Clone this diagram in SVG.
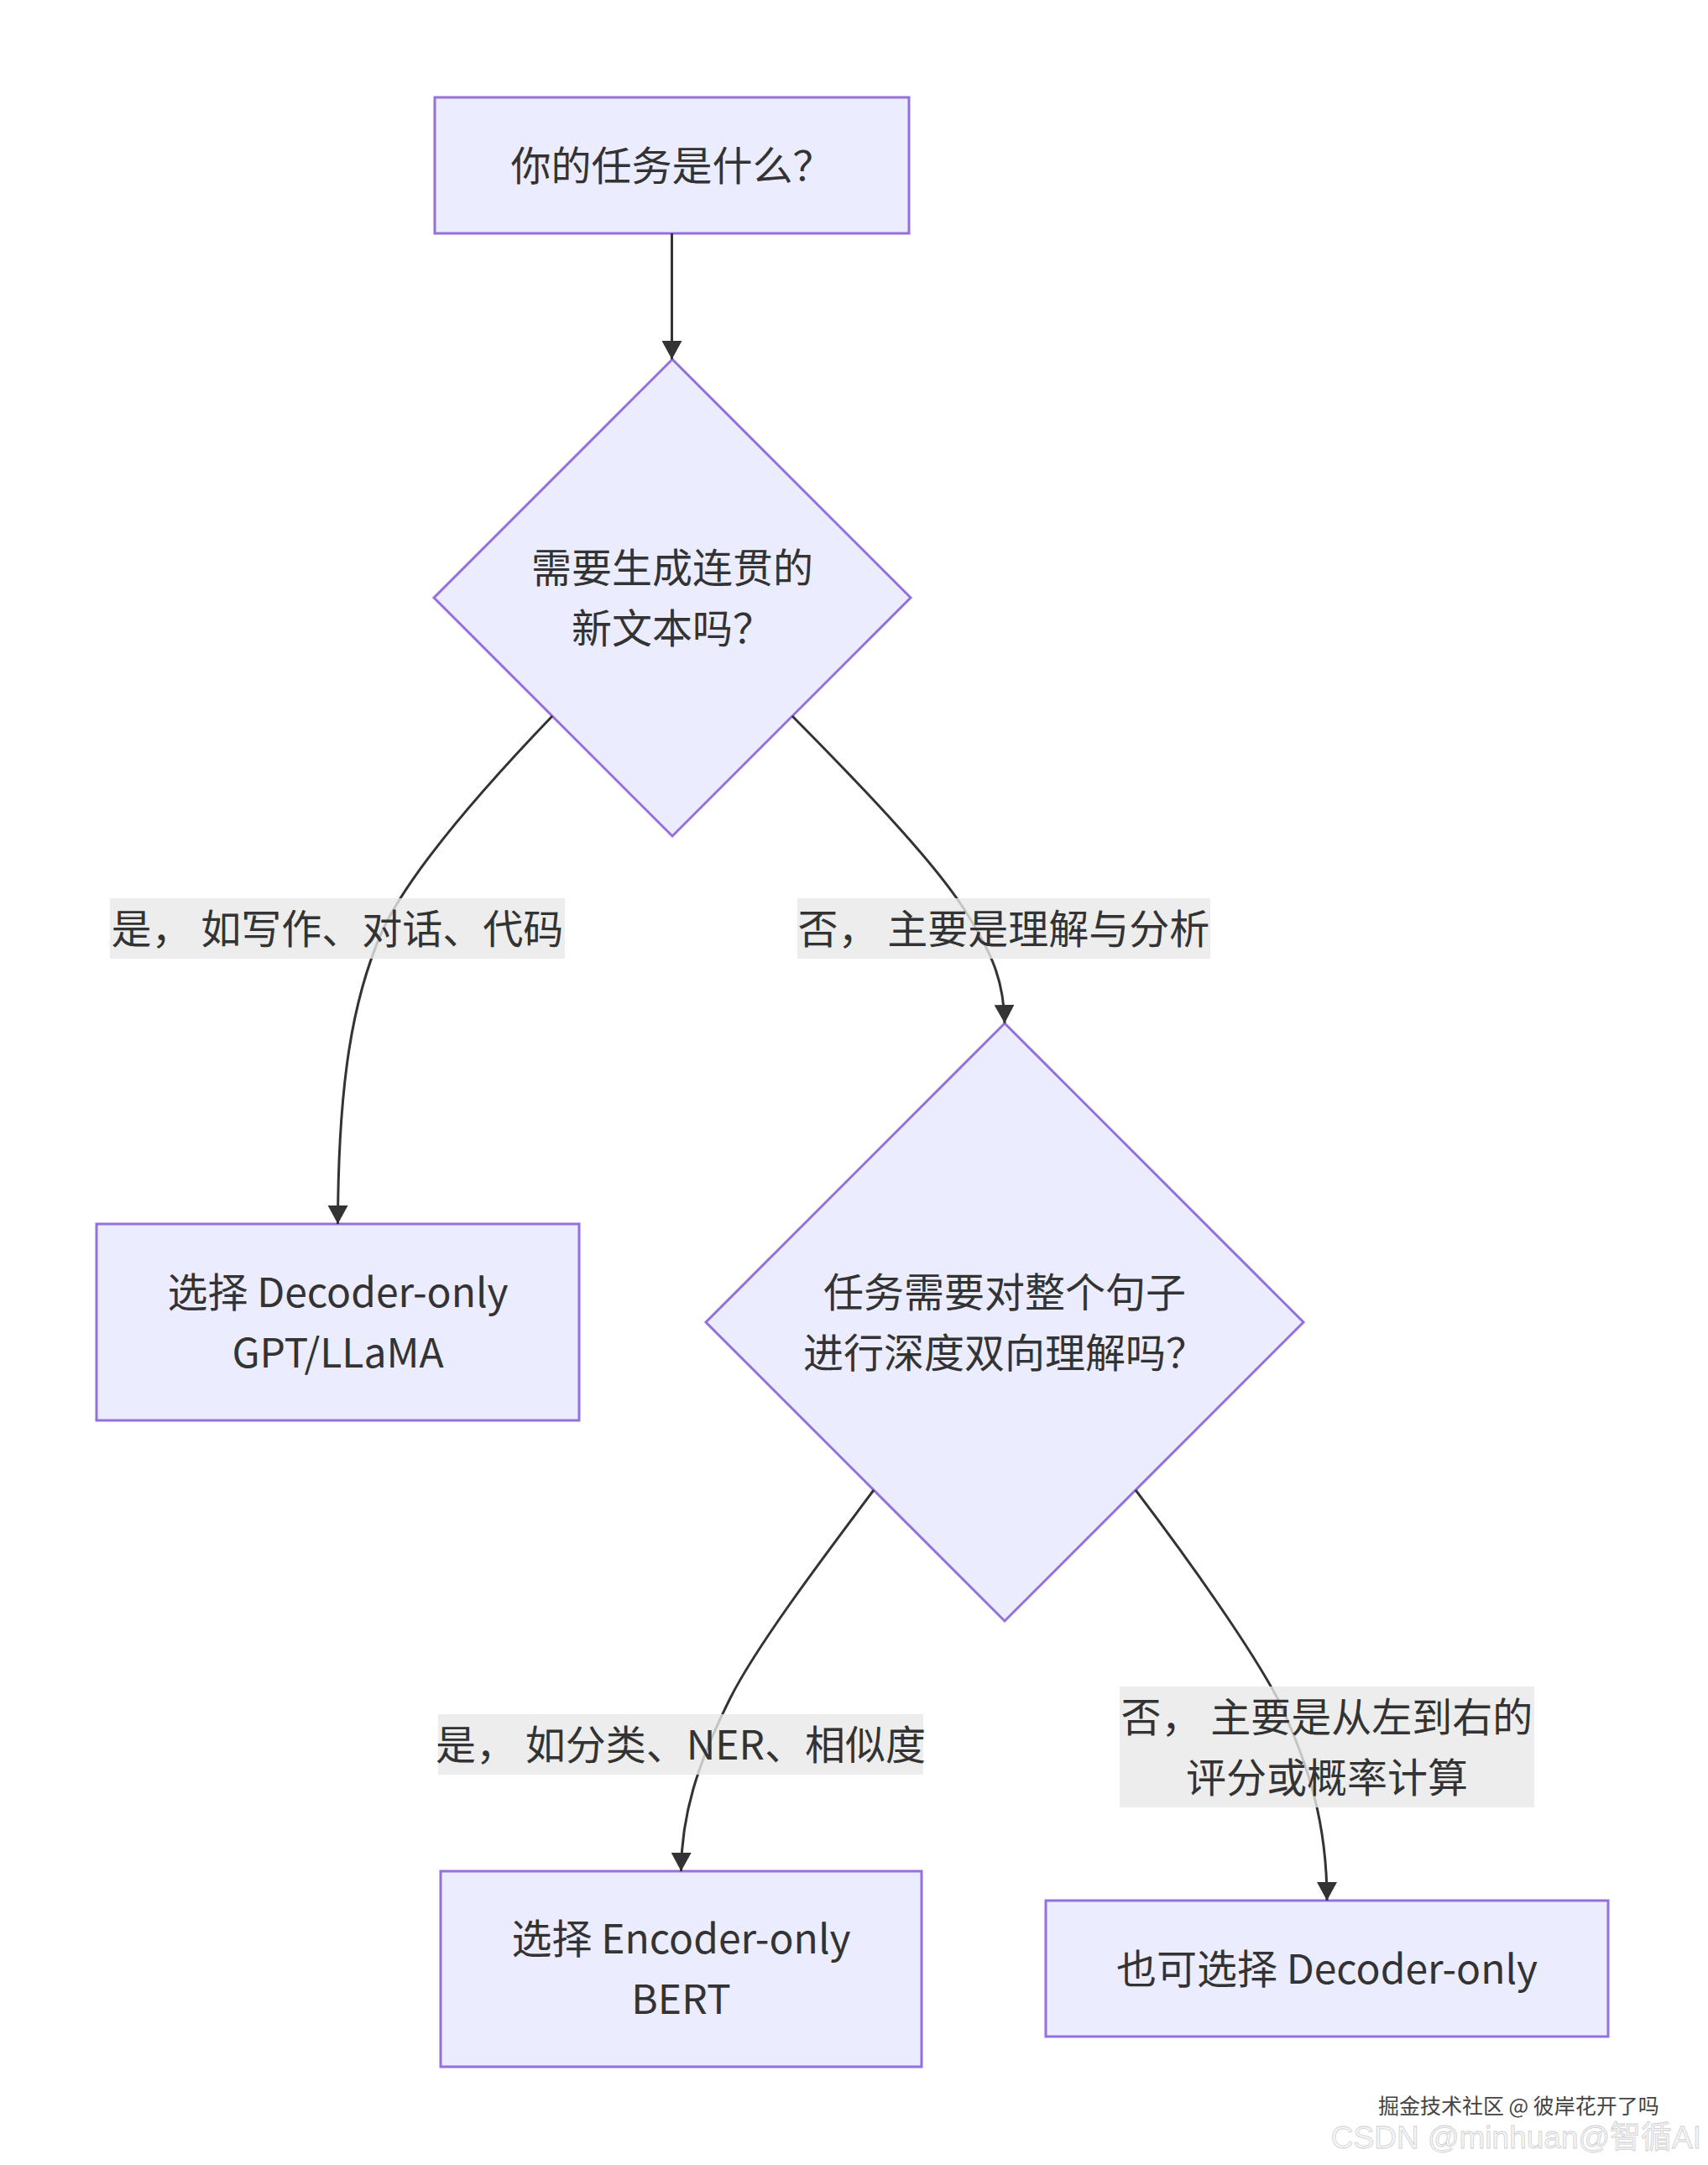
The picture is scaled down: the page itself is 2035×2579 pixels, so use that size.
<svg xmlns="http://www.w3.org/2000/svg" width="2035" height="2579" viewBox="0 0 2035 2579">
<style>
.node rect, .node polygon { fill: #ECECFF; stroke: #9370DB; stroke-width: 3; }
.t { font-family: "Noto Sans CJK SC", "Noto Sans", sans-serif; font-size: 48px; fill: #333333; text-anchor: middle; }
.edge { fill: none; stroke: #333333; stroke-width: 3; }
.lbl { fill: #e8e8e8; fill-opacity: 0.8; }
.wm1 { font-family: "Noto Sans CJK SC", sans-serif; font-size: 25px; fill: #444444; stroke: #ffffff; stroke-width: 2; paint-order: stroke; }
.wm2 { font-family: "Liberation Sans", "Noto Sans CJK SC", sans-serif; font-size: 37px; fill: #f6f6f6; stroke: #cfcfcf; stroke-width: 0.8; text-anchor: end; }
</style>
<defs>
<marker id="arrow" viewBox="0 0 22 24" refX="22" refY="12" markerWidth="22" markerHeight="24" markerUnits="userSpaceOnUse" orient="auto">
<path d="M0,0 L22,12 L0,24 z" fill="#333333"/>
</marker>
</defs>
<rect x="0" y="0" width="2035" height="2579" fill="#ffffff"/>

<g id="n-task" class="node">
<rect x="518" y="116" width="565" height="162"/>
<text class="t" x="800.5" y="215">你的任务是什么？</text>
</g>

<g id="n-generate" class="node">
<polygon points="801,428 1085,712 801,996 517,712"/>
<text class="t" x="801" y="694">需要生成连贯的</text>
<text class="t" x="801" y="766">新文本吗？</text>
</g>

<g id="n-gpt" class="node">
<rect x="115" y="1458" width="575" height="234"/>
<text class="t" x="402.5" y="1557">选择 Decoder-only</text>
<text class="t" x="402.5" y="1629">GPT/LLaMA</text>
</g>

<g id="n-bidir" class="node">
<polygon points="1197,1219 1553,1575 1197,1931 841,1575"/>
<text class="t" x="1197" y="1557">任务需要对整个句子</text>
<text class="t" x="1197" y="1629">进行深度双向理解吗？</text>
</g>

<g id="n-bert" class="node">
<rect x="525" y="2229" width="573" height="233"/>
<text class="t" x="811.5" y="2327">选择 Encoder-only</text>
<text class="t" x="811.5" y="2399">BERT</text>
</g>

<g id="n-decoder" class="node">
<rect x="1246" y="2264" width="670" height="162"/>
<text class="t" x="1581" y="2363">也可选择 Decoder-only</text>
</g>

<g id="edges">
<path class="edge" marker-end="url(#arrow)" d="M800.5,278 L800.5,428"/>
<path class="edge" marker-end="url(#arrow)" d="M658,853 C560,955 485,1045 455,1110 C420,1190 403,1290 402.5,1458"/>
<path class="edge" marker-end="url(#arrow)" d="M944,853 C1040,950 1115,1030 1150,1085 C1185,1140 1196,1172 1197,1219"/>
<path class="edge" marker-end="url(#arrow)" d="M1041,1775 C975,1863 900,1963 870,2023 C830,2103 812,2163 811.5,2229"/>
<path class="edge" marker-end="url(#arrow)" d="M1353,1775 C1420,1863 1490,1963 1522,2023 C1560,2103 1581,2173 1581,2264"/>
</g>

<g id="edge-labels">
<g id="l-yes1">
<rect class="lbl" x="131" y="1070" width="542" height="72"/>
<text class="t" x="402" y="1124">是， 如写作、对话、代码</text>
</g>
<g id="l-no1">
<rect class="lbl" x="950" y="1070" width="492" height="72"/>
<text class="t" x="1196" y="1124">否， 主要是理解与分析</text>
</g>
<g id="l-yes2">
<rect class="lbl" x="522" y="2042" width="578" height="72"/>
<text class="t" x="811" y="2096">是， 如分类、NER、相似度</text>
</g>
<g id="l-no2">
<rect class="lbl" x="1334" y="2009" width="494" height="144"/>
<text class="t" x="1581" y="2063">否， 主要是从左到右的</text>
<text class="t" x="1581" y="2135">评分或概率计算</text>
</g>
</g>

<g id="watermark">
<text class="wm1" x="1642" y="2518">掘金技术社区 @ 彼岸花开了吗</text>
<text class="wm2" x="2027" y="2559">CSDN @minhuan@智循AI</text>
</g>
</svg>
